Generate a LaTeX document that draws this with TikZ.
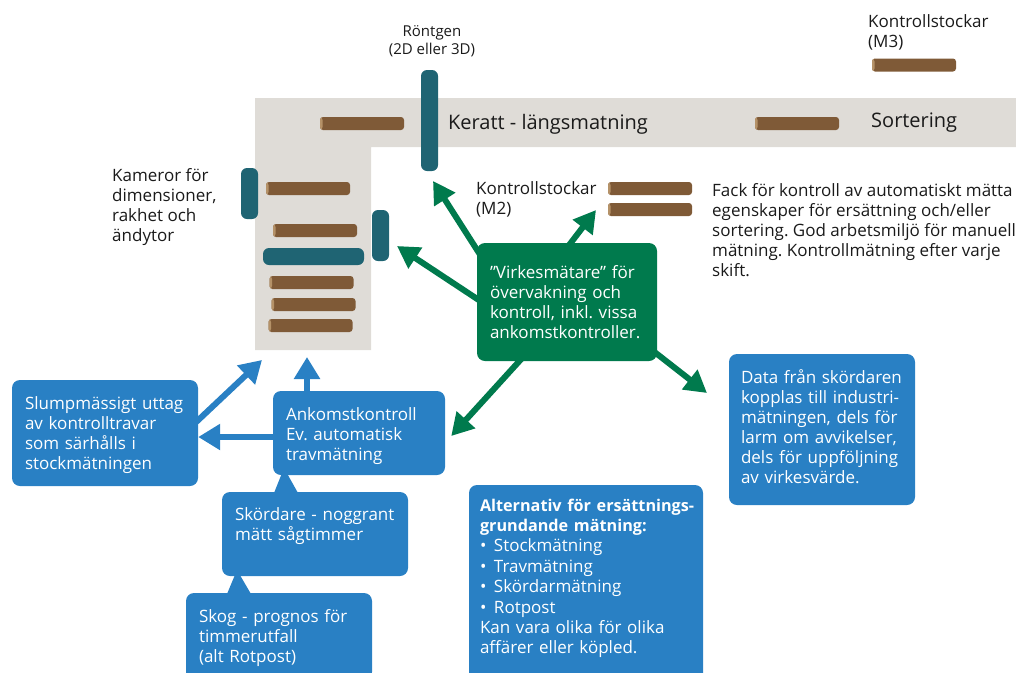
\documentclass[tikz,border=0pt]{standalone}
\usepackage{fontspec}
\setmainfont{Open Sans}
\usetikzlibrary{arrows.meta}
\frenchspacing
\definecolor{floorgray}{RGB}{223,220,215}
\definecolor{logbrown}{RGB}{127,90,55}
\definecolor{logend}{RGB}{181,146,104}
\definecolor{camteal}{RGB}{31,100,115}
\definecolor{virkegreen}{RGB}{0,122,77}
\definecolor{boxblue}{RGB}{41,128,196}
\definecolor{inkblack}{RGB}{26,26,26}
\newcommand{\bodyfont}{\fontsize{17}{20}\selectfont}
\newcommand{\bigfont}{\fontsize{20}{24}\selectfont}
\newcommand{\smallfont}{\fontsize{15}{18}\selectfont}
\newcommand{\headfont}{\fontsize{16.2}{20.4}\selectfont\bfseries}
\tikzstyle{stock} = [rectangle, rounded corners=3pt, fill=logbrown, minimum width=84pt, minimum height=13pt, inner sep=0pt,
    path picture={\fill[logend] (path picture bounding box.north west) rectangle ([xshift=2.5pt]path picture bounding box.south west);}]
\tikzstyle{cam} = [rectangle, rounded corners=6pt, fill=camteal, minimum width=17pt, inner sep=0pt]
\tikzstyle{tag} = [inner sep=0pt, align=left, font=\bodyfont, text=inkblack]
\tikzstyle{bluebox} = [rectangle, rounded corners=8pt, fill=boxblue, text=white, align=left, font=\bodyfont, inner xsep=13pt, inner ysep=0pt]
\tikzstyle{greenbox} = [bluebox, fill=virkegreen]
\tikzstyle{bluearrow} = [line width=6pt, draw=boxblue, -{Triangle[width=25pt,length=22pt]}]
\tikzstyle{greenarrow} = [line width=6pt, draw=virkegreen, -{Triangle[width=24pt,length=22pt]}]

\begin{document}
\begin{tikzpicture}[x=1pt,y=-1pt]
    \useasboundingbox (0,0) rectangle (1016,672);
    \clip (0,0) rectangle (1016,672);
    % golv for keratt och sortering
    \fill[floorgray] (255,98) -- (1016,98) -- (1016,147) -- (371,147) -- (371,350) -- (255,350) -- cycle;

    % stockar
    \node[stock] (keratlog) at (362,123.5) {};
    \node[stock] (sortlog) at (797,123.5) {};
    \node[stock] (mthreelog) at (914,65) {};
    \node[stock] (mtwologa) at (650,188.5) {};
    \node[stock] (mtwologb) at (650,209.5) {};
    \node[stock] (stacka) at (308,188.5) {};
    \node[stock] (stackb) at (315,230.5) {};
    \node[stock] (stackc) at (311.5,282.5) {};
    \node[stock] (stackd) at (313.5,304.5) {};
    \node[stock] (stacke) at (310.5,325.5) {};

    % matutrustning
    \node[cam, minimum height=101pt] (xray) at (429.5,120.5) {};
    \node[cam, minimum height=51pt] (camleft) at (249.5,193.5) {};
    \node[cam, minimum height=51pt] (camright) at (380.5,235.5) {};
    \node[cam, minimum width=101pt, minimum height=17pt] (scanbar) at (313.5,256.5) {};

    % texter
    \node[tag, font=\smallfont, align=center] (xraytext) at (432,41) {Röntgen\\(2D eller 3D)};
    \node[tag, anchor=west] (mthreetext) at (868,32.5) {Kontrollstockar\\(M3)};
    \node[tag, font=\bigfont, anchor=west] (kerattext) at (448,124) {Keratt - längsmatning};
    \node[tag, font=\bigfont, anchor=west] (sorttext) at (871,123) {Sortering};
    \node[tag, anchor=west] (camtext) at (112,207) {Kameror för\\dimensioner,\\rakhet och\\ändytor};
    \node[tag, anchor=west] (mtwotext) at (476,199) {Kontrollstockar\\(M2)};
    \node[tag, anchor=west] (facktext) at (712,230) {Fack för kontroll av automatiskt mätta\\egenskaper för ersättning och/eller\\sortering. God arbetsmiljö för manuell\\mätning. Kontrollmätning efter varje\\skift.};

    % pekare mellan rutorna
    \coordinate (skordtop) at (284,468);
    \coordinate (skogtop) at (237,570);
    \fill[boxblue] (274,493) -- (298,493) -- (skordtop) -- cycle;
    \fill[boxblue] (227,594) -- (251,594) -- (skogtop) -- cycle;

    % rutor
    \node[bluebox, text width=160pt, text height=18pt, minimum height=106pt] (slump) at (105,433) {Slumpmässigt uttag\\av kontrolltravar\\som särhålls i\\stockmätningen};
    \node[bluebox, text width=146pt, text height=20pt, minimum height=84pt] (ank) at (359,433) {Ankomstkontroll\\Ev. automatisk\\travmätning};
    \node[bluebox, text width=160pt, minimum height=84pt] (skord) at (315,534) {Skördare - noggrant\\mätt sågtimmer\\\mbox{}};
    \node[bluebox, text width=160pt, text height=16pt, minimum height=87pt] (skog) at (279,636.5) {Skog - prognos för\\timmerutfall\\(alt Rotpost)};
    \node[bluebox, inner xsep=12pt, text width=162pt, text height=8pt, minimum height=151pt] (data) at (822,429.5) {Data från skördaren\\kopplas till industri-\\mätningen, dels för\\larm om avvikelser,\\dels för uppföljning\\av virkesvärde.};
    \node[bluebox, font=\fontsize{17}{20.4}\selectfont, inner xsep=11pt, text width=212pt, minimum height=203pt] (alt) at (586,586.5) {\mbox{\headfont Alternativ för ersättnings-}\\\mbox{\headfont grundande mätning:}\\\makebox[14pt][l]{•}Stockmätning\\\makebox[14pt][l]{•}Travmätning\\\makebox[14pt][l]{•}Skördarmätning\\\makebox[14pt][l]{•}Rotpost\\Kan vara olika för olika\\affärer eller köpled.\\\mbox{}};
    \node[greenbox, text width=154pt, minimum height=118pt] (virke) at (567,302) {”Virkesmätare” för\\övervakning och\\kontroll, inkl. vissa\\ankomstkontroller.};

    % pilar
    \coordinate (xraytip) at (433,181);
    \coordinate (camtip) at (397,246);
    \coordinate (mtwotip) at (596,210);
    \coordinate (datatip) at (707,393);
    \coordinate (floortip) at (262,360);
    \coordinate (stacktip) at (307,357);
    \draw[greenarrow] ([xshift=4pt,yshift=-13pt]virke.north west) -- (xraytip);
    \draw[greenarrow] ([xshift=5pt]virke.west) -- (camtip);
    \draw[greenarrow] ([yshift=-5pt]virke.north) -- (mtwotip);
    \draw[greenarrow] ([xshift=47pt,yshift=5pt]virke.south west) -- ([xshift=6pt,yshift=-3pt]ank.east);
    \draw[greenarrow] ([xshift=-5pt,yshift=11pt]virke.south east) -- (datatip);
    \draw[bluearrow] ([xshift=-2pt,yshift=11pt]slump.east) -- (floortip);
    \draw[bluearrow] ([xshift=-52pt,yshift=-2pt]ank.north) -- (stacktip);
    \draw[bluearrow] ([yshift=-4pt]ank.west) -- ([yshift=-4pt]slump.east);
\end{tikzpicture}
\end{document}
